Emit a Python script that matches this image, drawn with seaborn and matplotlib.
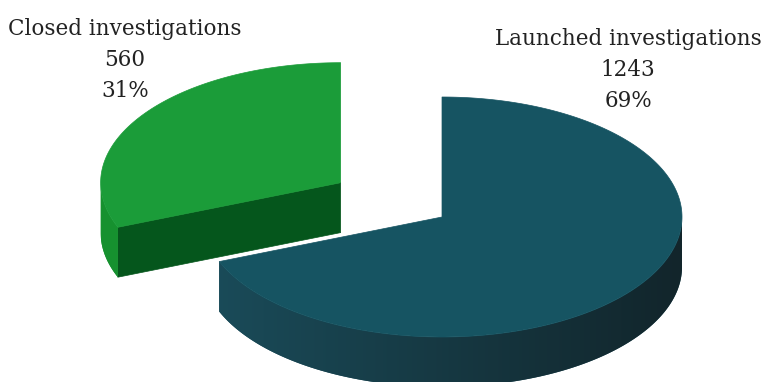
import numpy as np
import matplotlib
matplotlib.use("Agg")
import matplotlib.pyplot as plt
import seaborn as sns
from matplotlib.patches import Polygon
from matplotlib.colors import to_rgb

# Slice data (clockwise from 12 o'clock)
labels = ["Launched investigations", "Closed investigations"]
counts = [1243, 560]
percents = [69, 31]

# Styling
top_colors = ["#165462", "#1b9c39"]
rim_light = ["#1a4c5a", "#17922f"]
rim_dark = ["#12252b", "#108030"]
cut_colors = ["#0f3d48", "#05561c"]
explode = [0.0, 0.51]

TILT = 0.5      # vertical squash of the pie ellipse
DEPTH = 0.208   # thickness of the pie
PX = 240.0      # pixels per unit radius

sns.set_theme(style="white")
plt.rcParams["font.family"] = ["DejaVu Serif", "Liberation Serif"]

W, H = 764, 382
fig = plt.figure(figsize=(W / 100, H / 100), dpi=100)
ax = fig.add_axes([0, 0, 1, 1])
cx_px, cy_px = 442, 217
ax.set_xlim(-cx_px / PX, (W - cx_px) / PX)
ax.set_ylim(-(H - cy_px) / PX, cy_px / PX)
ax.set_axis_off()


def rim(c, th, dz=0.0):
    return np.column_stack([c[0] + np.cos(th), c[1] + TILT * np.sin(th) - dz])


total = float(sum(counts))
fracs = [v / total for v in counts]
starts = 90 - 360 * np.concatenate([[0], np.cumsum(fracs)[:-1]])
ends = starts - 360 * np.array(fracs)

slices = []
for i in range(len(counts)):
    a0, a1 = np.radians(starts[i]), np.radians(ends[i])
    mid = (a0 + a1) / 2
    c = np.array([explode[i] * np.cos(mid), explode[i] * TILT * np.sin(mid)])
    slices.append((i, a1, a0, c))

# paint back-to-front
slices.sort(key=lambda s: -s[3][1])
z = 1
for i, lo, hi, c in slices:
    # radial cut faces facing the viewer
    for edge, normal in ((lo, lo - np.pi / 2), (hi, hi + np.pi / 2)):
        if np.sin(normal) < -1e-6:
            p_top = rim(c, np.array([edge]))[0]
            face = [c, p_top, p_top - [0, DEPTH], c - [0, DEPTH]]
            ax.add_patch(Polygon(face, closed=True, facecolor=cut_colors[i],
                                 edgecolor=cut_colors[i], lw=0.5, zorder=z))

    # curved outer side (front half only), shaded left-light to right-dark
    th = np.linspace(lo, hi, 600)
    th = th[np.sin(th) < 0]
    if th.size > 1:
        top = rim(c, th)
        bot = rim(c, th, DEPTH)
        outline = np.vstack([top, bot[::-1]])
        side = Polygon(outline, closed=True, facecolor=rim_light[i],
                       edgecolor="none", zorder=z)
        ax.add_patch(side)
        xs = np.linspace(-1, 1, 256)
        t = (1 - xs) / 2
        lc, dc = np.array(to_rgb(rim_light[i])), np.array(to_rgb(rim_dark[i]))
        grad = (dc[None, :] + t[:, None] * (lc - dc)[None, :])[None, :, :]
        img = ax.imshow(grad, extent=[c[0] - 1, c[0] + 1,
                                      c[1] - TILT - DEPTH - 0.05, c[1] + TILT],
                        aspect="auto", interpolation="bilinear", zorder=z)
        img.set_clip_path(side)

    # top face
    th = np.linspace(lo, hi, 300)
    pts = np.vstack([c, rim(c, th)])
    ax.add_patch(Polygon(pts, closed=True, facecolor=top_colors[i],
                         edgecolor=top_colors[i], lw=0.5, zorder=z + 0.5))
    z += 1

ax.set_xlim(-cx_px / PX, (W - cx_px) / PX)
ax.set_ylim(-(H - cy_px) / PX, cy_px / PX)

# labels
label_pos = {0: (628, 45), 1: (125, 35)}
for i in range(len(counts)):
    x, y = label_pos[i]
    lines = [labels[i], f"{counts[i]}", f"{percents[i]}%"]
    for j, s in enumerate(lines):
        fig.text(x / W, 1 - (y + 31 * j) / H, s, ha="center", va="baseline",
                 fontsize=15.5, color="#222222")

fig.savefig("out.png", dpi=100)
